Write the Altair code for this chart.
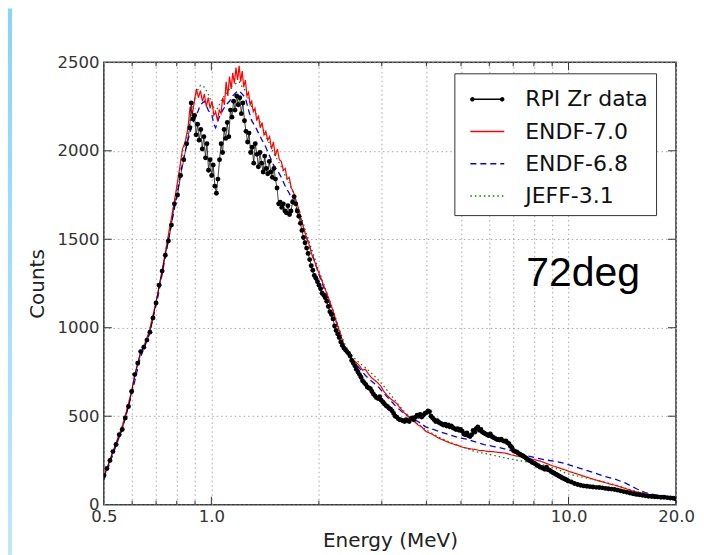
import altair as alt
import pandas as pd

# ---------------- data ----------------
series_names = ["RPI Zr data", "ENDF-7.0", "ENDF-6.8", "JEFF-3.1"]
series_colors = ["#000000", "#ff0000", "#0000ff", "#008000"]
series_dashes = [[1, 0], [1, 0], [6, 4], [1.5, 3]]

data_e = [0.500, 0.510, 0.520, 0.530, 0.541, 0.552, 0.563, 0.574, 0.586, 0.598,
          0.610, 0.622, 0.634, 0.647, 0.660, 0.673, 0.686, 0.700, 0.714, 0.728,
          0.743, 0.758, 0.773, 0.788, 0.804, 0.820, 0.837, 0.853, 0.870, 0.878,
          0.888, 0.897, 0.906, 0.915, 0.924, 0.934, 0.943, 0.953, 0.963, 0.972,
          0.982, 0.992, 1.002, 1.012, 1.023, 1.033, 1.043, 1.054, 1.065, 1.075,
          1.086, 1.097, 1.108, 1.119, 1.131, 1.142, 1.154, 1.165, 1.177, 1.189,
          1.201, 1.213, 1.225, 1.238, 1.250, 1.263, 1.275, 1.288, 1.301, 1.314,
          1.327, 1.341, 1.354, 1.368, 1.382, 1.396, 1.410, 1.424, 1.438, 1.453,
          1.467, 1.482, 1.497, 1.512, 1.527, 1.543, 1.558, 1.574, 1.590, 1.606,
          1.622, 1.638, 1.655, 1.671, 1.688, 1.705, 1.722, 1.740, 1.757, 1.775,
          1.793, 1.811, 1.829, 1.848, 1.866, 1.885, 1.904, 1.923, 1.942, 1.962,
          1.982, 2.002, 2.022, 2.042, 2.063, 2.083, 2.104, 2.126, 2.147, 2.169,
          2.191, 2.213, 2.235, 2.257, 2.280, 2.303, 2.326, 2.350, 2.373, 2.397,
          2.422, 2.446, 2.471, 2.496, 2.521, 2.546, 2.572, 2.598, 2.624, 2.650,
          2.677, 2.704, 2.731, 2.759, 2.787, 2.815, 2.843, 2.872, 2.901, 2.930,
          2.960, 2.989, 3.020, 3.050, 3.081, 3.112, 3.143, 3.175, 3.207, 3.239,
          3.272, 3.305, 3.338, 3.372, 3.406, 3.440, 3.475, 3.510, 3.545, 3.581,
          3.617, 3.654, 3.691, 3.728, 3.766, 3.804, 3.842, 3.881, 3.920, 3.960,
          4.000, 4.040, 4.081, 4.122, 4.164, 4.206, 4.248, 4.291, 4.334, 4.378,
          4.422, 4.467, 4.512, 4.558, 4.604, 4.650, 4.697, 4.745, 4.793, 4.841,
          4.890, 4.939, 4.989, 5.039, 5.090, 5.142, 5.193, 5.246, 5.299, 5.353,
          5.407, 5.461, 5.516, 5.572, 5.628, 5.685, 5.743, 5.801, 5.859, 5.918,
          5.978, 6.039, 6.100, 6.161, 6.223, 6.286, 6.350, 6.414, 6.479, 6.544,
          6.610, 6.677, 6.744, 6.812, 6.881, 6.951, 7.021, 7.092, 7.164, 7.236,
          7.309, 7.383, 7.458, 7.533, 7.609, 7.686, 7.764, 7.842, 7.921, 8.001,
          8.082, 8.164, 8.246, 8.330, 8.414, 8.499, 8.585, 8.672, 8.759, 8.848,
          8.937, 9.027, 9.118, 9.210, 9.303, 9.397, 9.492, 9.588, 9.685, 9.783,
          9.882, 9.982, 10.18, 10.39, 10.60, 10.81, 11.03, 11.25, 11.48, 11.71,
          11.94, 12.18, 12.43, 12.68, 12.93, 13.19, 13.46, 13.73, 14.00, 14.28,
          14.57, 14.86, 15.16, 15.47, 15.78, 16.10, 16.42, 16.75, 17.09, 17.43,
          17.78, 18.14, 18.50, 18.88, 19.26, 19.64, 20.00]
data_c = [165, 205, 250, 300, 340, 395, 425, 490, 555, 640,
          735, 800, 865, 890, 930, 975, 1055, 1140, 1240, 1320,
          1410, 1490, 1580, 1700, 1750, 1860, 1950, 2040, 2130, 2270,
          2180, 2200, 2090, 2150, 2060, 2120, 2010, 2080, 1960, 2040,
          1890, 1950, 1860, 1920, 1800, 1760, 1840, 1950, 2040, 1990,
          2120, 2070, 2160, 2080, 2230, 2190, 2280, 2230, 2310, 2260,
          2300, 2210, 2270, 2170, 2110, 2050, 2100, 1990, 2020, 1930,
          2040, 1980, 1910, 1990, 1930, 1880, 1970, 1900, 1870, 1940,
          1880, 1850, 1900, 1840, 1790, 1700, 1710, 1680, 1700, 1660,
          1650, 1690, 1640, 1660, 1710, 1740, 1700, 1660, 1630, 1590,
          1550, 1510, 1480, 1450, 1420, 1385, 1350, 1325, 1295, 1280,
          1260, 1240, 1220, 1195, 1185, 1170, 1150, 1120, 1090, 1075,
          1050, 1010, 985, 965, 945, 920, 900, 885, 875, 865,
          855, 840, 815, 800, 785, 765, 750, 735, 720, 700,
          690, 680, 665, 660, 655, 640, 625, 615, 605, 600,
          610, 590, 580, 570, 560, 555, 545, 540, 530, 515,
          500, 495, 485, 480, 478, 475, 470, 480, 475, 470,
          485, 490, 480, 495, 505, 500, 510, 495, 505, 515,
          520, 530, 525, 500, 490, 480, 470, 475, 465, 460,
          455, 450, 455, 445, 450, 440, 445, 435, 430, 425,
          430, 420, 425, 415, 400, 395, 405, 390, 385, 395,
          420, 410, 430, 440, 420, 425, 410, 405, 400, 395,
          390, 400, 385, 380, 375, 370, 368, 365, 370, 362,
          358, 360, 350, 345, 330, 320, 305, 300, 298, 290,
          285, 280, 275, 270, 262, 255, 250, 245, 238, 235,
          230, 222, 218, 212, 210, 205, 200, 212, 198, 195,
          188, 182, 178, 172, 168, 162, 158, 152, 148, 144,
          140, 134, 128, 120, 114, 110, 106, 104, 102, 100,
          98, 97, 95, 92, 90, 88, 86, 82, 78, 74,
          70, 66, 62, 58, 56, 53, 50, 48, 46, 45,
          44, 42, 42, 40, 38, 36, 32]

endf70_e = [0.500, 0.515, 0.530, 0.546, 0.562, 0.579, 0.596, 0.614, 0.632, 0.651,
            0.670, 0.690, 0.711, 0.732, 0.754, 0.776, 0.799, 0.815, 0.830, 0.845,
            0.860, 0.872, 0.884, 0.896, 0.908, 0.920, 0.932, 0.944, 0.956, 0.968,
            0.980, 0.992, 1.004, 1.016, 1.028, 1.040, 1.052, 1.064, 1.076, 1.088,
            1.100, 1.112, 1.124, 1.136, 1.148, 1.160, 1.172, 1.184, 1.196, 1.208,
            1.220, 1.232, 1.245, 1.258, 1.271, 1.284, 1.297, 1.310, 1.325, 1.340,
            1.355, 1.370, 1.387, 1.404, 1.421, 1.438, 1.456, 1.474, 1.492, 1.510,
            1.530, 1.550, 1.570, 1.590, 1.610, 1.630, 1.652, 1.674, 1.696, 1.718,
            1.740, 1.765, 1.790, 1.815, 1.840, 1.865, 1.890, 1.920, 1.950, 1.980,
            2.010, 2.040, 2.070, 2.100, 2.135, 2.170, 2.205, 2.240, 2.275, 2.310,
            2.350, 2.390, 2.430, 2.470, 2.510, 2.555, 2.600, 2.650, 2.700, 2.750,
            2.800, 2.860, 2.920, 2.980, 3.040, 3.100, 3.170, 3.240, 3.310, 3.380,
            3.460, 3.540, 3.620, 3.700, 3.790, 3.880, 3.980, 4.080, 4.180, 4.290,
            4.400, 4.520, 4.640, 4.770, 4.900, 5.040, 5.180, 5.330, 5.480, 5.640,
            5.800, 5.970, 6.140, 6.320, 6.500, 6.700, 6.900, 7.100, 7.300, 7.520,
            7.740, 7.970, 8.200, 8.450, 8.700, 8.950, 9.220, 9.500, 9.800, 10.10,
            10.40, 10.70, 11.00, 11.40, 11.80, 12.20, 12.60, 13.00, 13.50, 14.00,
            14.50, 15.00, 15.50, 16.00, 16.50, 17.00, 17.50, 18.00, 18.50, 19.00,
            19.50, 20.00]
endf70_c = [150, 230, 300, 370, 440, 530, 630, 750, 850, 910,
            980, 1090, 1210, 1350, 1500, 1640, 1790, 1900, 2010, 2050,
            2130, 2250, 2200, 2280, 2350, 2300, 2340, 2280, 2320, 2250,
            2300, 2240, 2280, 2200, 2220, 2170, 2230, 2210, 2300, 2260,
            2390, 2310, 2420, 2350, 2440, 2380, 2470, 2400, 2480, 2390,
            2450, 2360, 2400, 2310, 2330, 2260, 2280, 2220, 2240, 2170,
            2200, 2130, 2160, 2090, 2110, 2060, 2080, 2010, 2050, 1970,
            2010, 1950, 1940, 1890, 1900, 1840, 1850, 1790, 1770, 1730,
            1700, 1650, 1600, 1560, 1520, 1490, 1450, 1400, 1370, 1330,
            1300, 1265, 1230, 1200, 1160, 1120, 1080, 1030, 990, 950,
            900, 870, 850, 830, 815, 800, 785, 760, 765, 740,
            720, 705, 690, 670, 640, 620, 600, 585, 570, 545,
            520, 505, 485, 470, 450, 440, 415, 405, 395, 380,
            370, 360, 350, 342, 335, 325, 320, 315, 312, 306,
            305, 300, 300, 296, 294, 290, 282, 276, 272, 266,
            262, 255, 250, 242, 232, 222, 214, 205, 196, 186,
            178, 170, 162, 152, 142, 134, 126, 118, 110, 100,
            90, 80, 72, 66, 60, 56, 52, 50, 46, 44,
            42, 40]

endf68_e = [0.500, 0.530, 0.562, 0.596, 0.632, 0.670, 0.711, 0.754, 0.799, 0.830,
            0.860, 0.884, 0.908, 0.932, 0.956, 0.980, 1.004, 1.016, 1.028, 1.052,
            1.076, 1.100, 1.124, 1.148, 1.172, 1.196, 1.220, 1.245, 1.271, 1.297,
            1.325, 1.355, 1.387, 1.421, 1.456, 1.492, 1.530, 1.570, 1.610, 1.652,
            1.696, 1.740, 1.790, 1.840, 1.890, 1.950, 2.010, 2.070, 2.135, 2.205,
            2.275, 2.350, 2.430, 2.510, 2.600, 2.700, 2.800, 2.920, 3.040, 3.170,
            3.310, 3.460, 3.620, 3.790, 3.980, 4.180, 4.400, 4.640, 4.900, 5.180,
            5.480, 5.800, 6.140, 6.500, 6.900, 7.300, 7.740, 8.200, 8.700, 9.220,
            9.800, 10.40, 11.00, 11.80, 12.60, 13.50, 14.50, 15.50, 16.50, 17.50,
            18.50, 19.50, 20.00]
endf68_c = [140, 285, 425, 610, 830, 960, 1190, 1470, 1740, 1930,
            2060, 2150, 2200, 2260, 2280, 2230, 2200, 2150, 2130, 2190,
            2230, 2260, 2280, 2310, 2330, 2340, 2320, 2300, 2230, 2170,
            2140, 2100, 2060, 2020, 1970, 1920, 1890, 1850, 1800, 1760,
            1710, 1660, 1600, 1520, 1450, 1370, 1290, 1220, 1150, 1070,
            990, 900, 840, 805, 770, 730, 700, 670, 630, 590,
            550, 515, 490, 470, 440, 425, 410, 395, 380, 370,
            355, 340, 330, 320, 305, 290, 275, 262, 252, 244,
            232, 215, 200, 180, 160, 145, 120, 90, 66, 55,
            48, 40, 37]

jeff31_e = [0.500, 0.530, 0.562, 0.596, 0.632, 0.670, 0.711, 0.754, 0.799, 0.830,
            0.860, 0.884, 0.908, 0.932, 0.956, 0.980, 1.004, 1.028, 1.052, 1.076,
            1.100, 1.124, 1.148, 1.172, 1.196, 1.220, 1.245, 1.271, 1.297, 1.325,
            1.355, 1.387, 1.421, 1.456, 1.492, 1.530, 1.570, 1.610, 1.652, 1.696,
            1.740, 1.790, 1.840, 1.890, 1.950, 2.010, 2.070, 2.135, 2.205, 2.275,
            2.350, 2.430, 2.510, 2.600, 2.700, 2.800, 2.920, 3.040, 3.170, 3.310,
            3.460, 3.620, 3.790, 3.980, 4.180, 4.400, 4.640, 4.900, 5.180, 5.480,
            5.800, 6.140, 6.500, 6.900, 7.300, 7.740, 8.200, 8.700, 9.220, 9.800,
            10.40, 11.00, 11.80, 12.60, 13.50, 14.50, 15.50, 16.50, 17.50, 18.50,
            19.50, 20.00]
jeff31_c = [150, 295, 435, 625, 845, 975, 1200, 1490, 1780, 1990,
            2110, 2230, 2330, 2370, 2360, 2320, 2270, 2220, 2260, 2300,
            2320, 2350, 2370, 2380, 2390, 2360, 2340, 2290, 2250, 2220,
            2180, 2140, 2080, 2040, 1990, 1950, 1910, 1860, 1820, 1760,
            1700, 1620, 1540, 1470, 1390, 1310, 1240, 1165, 1085, 1000,
            920, 860, 830, 800, 775, 745, 710, 670, 625, 575,
            530, 490, 455, 425, 400, 375, 355, 335, 318, 300,
            290, 280, 268, 258, 248, 240, 232, 220, 205, 178,
            165, 155, 142, 128, 112, 92, 74, 62, 54, 48,
            43, 42]

x_tick_values = [0.5, 0.6, 0.7, 0.8, 0.9, 1, 2, 3, 4, 5, 6, 7, 8, 9, 10, 20]
x_minor = [0.6, 0.7, 0.8, 0.9, 2, 3, 4, 5, 6, 7, 8, 9, 20]
x_major = [1, 10]
y_tick_values = [0, 500, 1000, 1500, 2000, 2500]
y_inner = [500, 1000, 1500, 2000]

# ---------------- build tables ----------------
rows = []
for name, es, cs in [("RPI Zr data", data_e, data_c),
                     ("ENDF-7.0", endf70_e, endf70_c),
                     ("ENDF-6.8", endf68_e, endf68_c),
                     ("JEFF-3.1", jeff31_e, jeff31_c)]:
    for e, c in zip(es, cs):
        rows.append({"series": name, "energy": e, "counts": c})
df = pd.DataFrame(rows)

W, H = 573, 443

xscale = alt.Scale(type="log", domain=[0.5, 20], nice=False)
yscale = alt.Scale(domain=[0, 2500], nice=False)

label_expr = "indexof([0.5, 1, 10, 20], datum.value) >= 0 ? format(datum.value, '.1f') : ''"

x_enc = alt.X("energy:Q", scale=xscale,
              axis=alt.Axis(values=x_tick_values, labelExpr=label_expr, title="Energy (MeV)",
                            ticks=False, domain=False, labelOverlap=False, labelFlush=False,
                            labelPadding=4, titlePadding=5))
y_enc = alt.Y("counts:Q", scale=yscale,
              axis=alt.Axis(values=y_tick_values, format="d", title="Counts", ticks=False,
                            domain=False, labelOverlap=False, labelFlush=False,
                            labelPadding=5, titlePadding=9))

rpi_path = ("M-1,0L1,0"
            "M-0.97,0a0.09,0.09 0 1,0 0.18,0a0.09,0.09 0 1,0 -0.18,0"
            "M0.79,0a0.09,0.09 0 1,0 0.18,0a0.09,0.09 0 1,0 -0.18,0")
series_shapes = [rpi_path, "stroke", "stroke", "stroke"]

legend = alt.Legend(
    title=None, orient="none", legendX=351, legendY=11,
    symbolType="stroke", symbolSize=1150, symbolStrokeWidth=1.4, symbolOffset=7,
    labelFont="DejaVu Sans", labelFontSize=22, labelColor="#111111", labelOffset=20,
    padding=8, rowPadding=3.3, fillColor="white", strokeColor="#333333",
)

color_enc = alt.Color("series:N", scale=alt.Scale(domain=series_names, range=series_colors),
                      legend=legend)
dash_enc = alt.StrokeDash("series:N", scale=alt.Scale(domain=series_names, range=series_dashes),
                          legend=legend)
shape_enc = alt.Shape("series:N", scale=alt.Scale(domain=series_names, range=series_shapes),
                      legend=legend)

base = alt.Chart(df)

def line_layer(name, width):
    return base.transform_filter(alt.datum.series == name).mark_line(
        strokeWidth=width, clip=True
    ).encode(x=x_enc, y=y_enc, color=color_enc, strokeDash=dash_enc)

# empty layer that only contributes the legend symbol shapes
legend_layer = base.transform_filter("false").mark_point(
    filled=False, strokeWidth=1.4, opacity=1
).encode(x=x_enc, y=y_enc, color=color_enc, shape=shape_enc, strokeDash=dash_enc)

jeff_line = line_layer("JEFF-3.1", 1.2)
e68_line = line_layer("ENDF-6.8", 1.3)
e70_line = line_layer("ENDF-7.0", 1.2)
rpi_line = line_layer("RPI Zr data", 0.8)
rpi_pts = base.transform_filter(alt.datum.series == "RPI Zr data").mark_circle(
    size=24, color="black", opacity=1, clip=True
).encode(x=x_enc, y=y_enc)

# inside ticks (matplotlib style)
minor_df = pd.DataFrame({"energy": x_minor})
major_df = pd.DataFrame({"energy": x_major})
ytick_df = pd.DataFrame({"counts": y_inner})
tick_style = dict(color="#333333", strokeWidth=1)
xt = alt.X("energy:Q", scale=xscale)
yt = alt.Y("counts:Q", scale=yscale)
ticks = [
    alt.Chart(minor_df).mark_rule(**tick_style).encode(x=xt, y=alt.value(H), y2=alt.value(H - 4)),
    alt.Chart(minor_df).mark_rule(**tick_style).encode(x=xt, y=alt.value(0), y2=alt.value(4)),
    alt.Chart(major_df).mark_rule(**tick_style).encode(x=xt, y=alt.value(H), y2=alt.value(H - 8)),
    alt.Chart(major_df).mark_rule(**tick_style).encode(x=xt, y=alt.value(0), y2=alt.value(8)),
    alt.Chart(ytick_df).mark_rule(**tick_style).encode(y=yt, x=alt.value(0), x2=alt.value(8)),
    alt.Chart(ytick_df).mark_rule(**tick_style).encode(y=yt, x=alt.value(W), x2=alt.value(W - 8)),
]

label_df = pd.DataFrame({"label": ["72deg"]})
angle_text = alt.Chart(label_df).mark_text(
    align="left", baseline="alphabetic", font="Liberation Sans", fontSize=41, color="black"
).encode(x=alt.value(423), y=alt.value(224), text="label:N")

strip_df = pd.DataFrame({"k": [0]})
strip = alt.Chart(strip_df).mark_rect(
    fill=alt.Gradient(gradient="linear", x1=0, y1=0, x2=0, y2=1,
                      stops=[alt.GradientStop(color="#86d5fb", offset=0),
                             alt.GradientStop(color="#bfe7fb", offset=1)])
).encode(x=alt.value(-96), x2=alt.value(-92), y=alt.value(-54), y2=alt.value(H + 52))

chart = alt.layer(
    strip, legend_layer, jeff_line, e68_line, e70_line, rpi_line, rpi_pts, *ticks, angle_text
).properties(
    width=W, height=H,
    autosize=alt.AutoSizeParams(type="none"),
    padding={"left": 96, "top": 54, "right": 20, "bottom": 50},
    background="white",
).configure_view(
    stroke="#3a3a3a", strokeWidth=1.6
).configure_axis(
    labelFont="DejaVu Sans", labelFontSize=16.5, labelColor="#333333",
    titleFont="DejaVu Sans", titleFontSize=20, titleFontWeight="normal", titleColor="#222222",
    grid=True, gridColor="#a8a8a8", gridDash=[1.5, 3], gridWidth=1,
)

chart.save("out.html", embed_options={"renderer": "svg", "actions": False})
